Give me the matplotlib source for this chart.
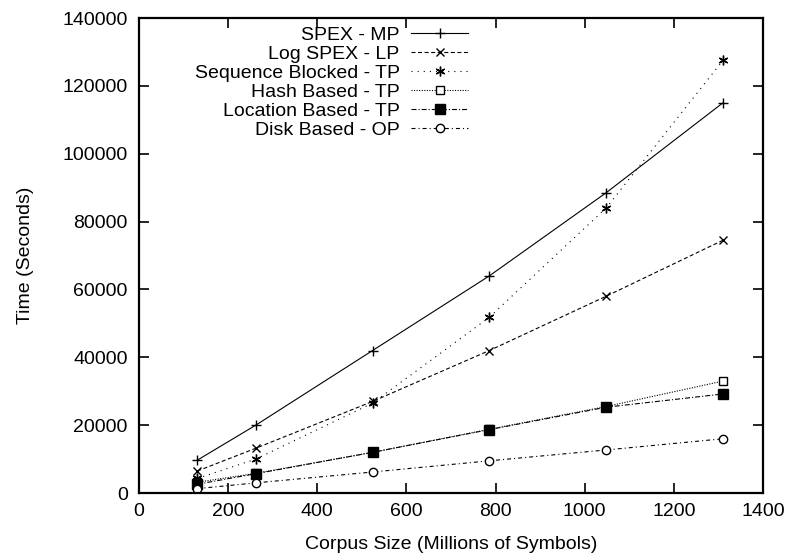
import matplotlib
matplotlib.use("Agg")
import matplotlib.pyplot as plt

plt.rcParams['font.family'] = ['Liberation Sans', 'DejaVu Sans']

corpus_size = [131, 262, 524, 786, 1048, 1310]
spex_mp = [9700, 20000, 42000, 64000, 88500, 115000]
log_spex_lp = [6500, 13200, 27000, 42000, 58000, 74500]
seq_blocked_tp = [4300, 10000, 26500, 51800, 84000, 127500]
hash_tp = [3200, 5800, 12000, 18800, 25500, 33000]
location_tp = [2600, 5700, 12000, 18700, 25300, 29200]
disk_op = [1300, 3000, 6200, 9500, 12700, 16000]

labels = ["SPEX - MP", "Log SPEX - LP", "Sequence Blocked - TP",
          "Hash Based - TP", "Location Based - TP", "Disk Based - OP"]

FS = 14

fig = plt.figure(figsize=(7.94, 5.54), dpi=100)
ax = fig.add_axes([0.175, 0.110, 0.786, 0.8575])

lw = 0.8
ax.plot(corpus_size, spex_mp, color='black', lw=lw, ls='-', marker='+', ms=7, mew=1, label=labels[0])
ax.plot(corpus_size, log_spex_lp, color='black', lw=lw, ls=(0, (3.6, 2.3)), marker='x', ms=6, mew=1, label=labels[1])
ax.plot(corpus_size, seq_blocked_tp, color='black', lw=lw, ls=(0, (1, 4.5)), marker=(6, 2, 0), ms=7, mew=1, label=labels[2])
ax.plot(corpus_size, hash_tp, color='black', lw=lw, ls=(0, (1, 1.3)), marker='s', ms=6, mew=1, mfc='white', label=labels[3])
ax.plot(corpus_size, location_tp, color='black', lw=lw, ls=(0, (4.5, 1.8, 1, 1.8)), marker='s', ms=7, mew=1, mfc='black', label=labels[4])
ax.plot(corpus_size, disk_op, color='black', lw=lw, ls=(0, (3.6, 2.7, 1, 2.7)), marker='o', ms=6, mew=1, mfc='white', label=labels[5])

ax.set_xlim(0, 1400)
ax.set_ylim(0, 140000)
ax.set_xticks(range(0, 1401, 200))
ax.set_yticks(range(0, 140001, 20000))
ax.tick_params(direction='in', length=7, width=1.2, top=True, right=True, labelsize=FS)
ax.tick_params(axis='y', pad=8)
ax.tick_params(axis='x', pad=7)
for s in ax.spines.values():
    s.set_linewidth(1.6)

ax.set_xlabel("Corpus Size (Millions of Symbols)", fontsize=FS)
ax.set_ylabel("Time (Seconds)", fontsize=FS)
ax.xaxis.label.set_va('center')
ax.yaxis.label.set_va('center')
ax.xaxis.set_label_coords(0.5, -0.108)
ax.yaxis.set_label_coords(-0.181, 0.5)

leg = ax.legend(loc='upper right', bbox_to_anchor=(0.533, 0.99), frameon=False, markerfirst=False,
                fontsize=FS, handlelength=2.9, labelspacing=0.07, handletextpad=0.6,
                borderaxespad=0.0, borderpad=0.2)
for col in leg._legend_handle_box.get_children():
    col.align = 'right'

fig.savefig("out.png", dpi=100)
